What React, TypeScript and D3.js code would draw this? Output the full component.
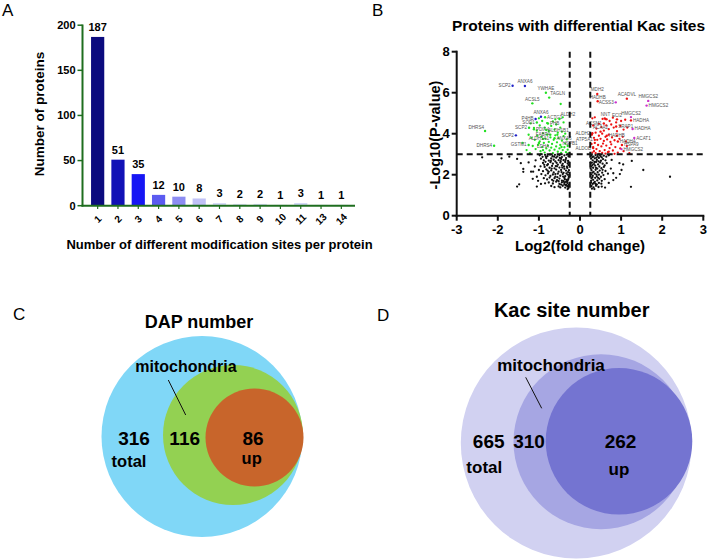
import React from "react";
import * as d3 from "d3";

// ---------- Panel A data ----------
const barCategories = ["1", "2", "3", "4", "5", "6", "7", "8", "9", "10", "11", "13", "14"];
const barValues = [187, 51, 35, 12, 10, 8, 3, 2, 2, 1, 3, 1, 1];
const barColors = ["#0b0b7e", "#1111b6", "#1616f4", "#5b5bf0", "#8d8df2", "#c0c1f6", "#d6daf8", "#dfe2fa", "#d9ddf9", "#e4e6fb", "#d3d8f7", "#e4e6fb", "#e4e6fb"];
const barYTicks = [0, 50, 100, 150, 200];

// ---------- Panel B data ----------
const volcanoXTicks = [-3, -2, -1, 0, 1, 2, 3];
const volcanoYTicks = [0, 2, 4, 6, 8];
const fcCutoffs = [-0.25, 0.25];
const pCutoff = 3;

const blackLeft: [number, number][] = [
  [-0.98, 2.95], [-0.91, 2.87], [-0.85, 2.97], [-0.79, 2.91], [-0.73, 2.98], [-0.67, 2.9], [-0.61, 2.97], [-0.55, 2.89], [-0.5, 2.96], [-0.44, 2.86], [-0.38, 2.94], [-0.32, 2.98], [-0.28, 2.9],
  [-0.95, 2.78], [-0.88, 2.7], [-0.82, 2.81], [-0.76, 2.69], [-0.7, 2.79], [-0.64, 2.73], [-0.58, 2.83], [-0.52, 2.71], [-0.46, 2.77], [-0.4, 2.71], [-0.34, 2.81], [-0.29, 2.67],
  [-0.9, 2.57], [-0.84, 2.63], [-0.78, 2.51], [-0.72, 2.61], [-0.66, 2.54], [-0.6, 2.65], [-0.54, 2.49], [-0.48, 2.59], [-0.42, 2.53], [-0.36, 2.62], [-0.3, 2.55], [-0.27, 2.6],
  [-0.96, 2.41], [-0.86, 2.38], [-0.8, 2.46], [-0.74, 2.34], [-0.68, 2.43], [-0.62, 2.31], [-0.56, 2.41], [-0.5, 2.35], [-0.44, 2.45], [-0.38, 2.29], [-0.32, 2.39], [-0.28, 2.47],
  [-1.0, 2.23], [-0.9, 2.17], [-0.82, 2.26], [-0.76, 2.14], [-0.7, 2.21], [-0.64, 2.11], [-0.58, 2.25], [-0.52, 2.15], [-0.46, 2.23], [-0.4, 2.09], [-0.34, 2.2], [-0.29, 2.13],
  [-0.94, 2.03], [-0.84, 1.97], [-0.78, 2.06], [-0.72, 1.94], [-0.66, 2.01], [-0.6, 1.91], [-0.54, 2.05], [-0.48, 1.95], [-0.42, 2.03], [-0.36, 1.93], [-0.3, 2.0], [-0.27, 1.9],
  [-0.88, 1.83], [-0.8, 1.77], [-0.74, 1.86], [-0.68, 1.75], [-0.62, 1.83], [-0.56, 1.73], [-0.5, 1.81], [-0.44, 1.71], [-0.38, 1.85], [-0.33, 1.75], [-0.28, 1.82],
  [-0.76, 1.62], [-0.66, 1.57], [-0.58, 1.66], [-0.5, 1.55], [-0.44, 1.63], [-0.38, 1.54], [-0.34, 1.65], [-0.3, 1.59], [-0.27, 1.5], [-0.31, 1.68],
  [-0.7, 1.45], [-0.62, 1.39], [-0.52, 1.43], [-0.42, 1.46], [-0.36, 1.37], [-0.31, 1.44], [-0.28, 1.35], [-0.33, 1.52], [-0.4, 1.68], [-0.29, 1.42],
  [-0.63, 2.88], [-0.47, 2.66], [-0.35, 2.72], [-0.31, 2.33], [-0.39, 2.4], [-0.57, 2.58], [-0.69, 2.3], [-0.45, 2.13], [-0.33, 2.06], [-0.55, 1.88],
  [-0.41, 1.91], [-0.29, 1.75], [-0.35, 1.49], [-0.46, 1.52], [-0.3, 1.3], [-0.37, 1.78], [-0.52, 1.68], [-0.65, 1.7], [-0.6, 2.03], [-0.79, 2.2],
  [-0.83, 2.88], [-0.71, 2.67], [-0.49, 2.82], [-0.27, 2.22], [-0.43, 2.35], [-0.59, 2.42], [-0.87, 2.48], [-0.26, 1.98], [-0.38, 1.62], [-0.48, 1.38],
  [-1.91, 2.8], [-1.72, 2.88], [-1.53, 2.77], [-1.44, 2.56], [-1.38, 2.28], [-1.38, 2.14], [-1.19, 2.15], [-1.14, 2.15], [-1.48, 1.53], [-1.53, 1.42],
  [-1.05, 1.9], [-1.05, 1.42], [-0.85, 1.58], [-2.38, 2.85], [-1.25, 2.6], [-1.1, 2.4], [-1.02, 1.7], [-0.95, 1.55], [-1.15, 1.8], [-1.08, 2.7],
];

const blackRight: [number, number][] = [
  [0.28, 2.95], [0.33, 2.88], [0.38, 2.96], [0.43, 2.9], [0.48, 2.97], [0.53, 2.85], [0.58, 2.93], [0.64, 2.88], [0.7, 2.95],
  [0.27, 2.78], [0.31, 2.7], [0.36, 2.8], [0.41, 2.72], [0.46, 2.82], [0.51, 2.68], [0.56, 2.76], [0.62, 2.7],
  [0.29, 2.58], [0.34, 2.52], [0.39, 2.62], [0.44, 2.5], [0.49, 2.6], [0.55, 2.54], [0.6, 2.45],
  [0.27, 2.4], [0.32, 2.34], [0.37, 2.44], [0.42, 2.3], [0.47, 2.4], [0.52, 2.32], [0.58, 2.38],
  [0.28, 2.22], [0.33, 2.14], [0.38, 2.24], [0.43, 2.12], [0.48, 2.2], [0.54, 2.1], [0.62, 2.18],
  [0.27, 2.02], [0.31, 1.95], [0.36, 2.05], [0.41, 1.92], [0.46, 2.0], [0.51, 1.9], [0.57, 1.98],
  [0.28, 1.82], [0.32, 1.75], [0.37, 1.85], [0.42, 1.72], [0.47, 1.8], [0.53, 1.7], [0.6, 1.78],
  [0.27, 1.62], [0.31, 1.55], [0.36, 1.65], [0.41, 1.52], [0.46, 1.6], [0.52, 1.56],
  [0.28, 1.45], [0.33, 1.38], [0.39, 1.46], [0.45, 1.4], [0.29, 1.32], [0.35, 1.3],
  [0.3, 2.86], [0.35, 2.62], [0.4, 2.83], [0.3, 2.47], [0.39, 2.33], [0.3, 2.1], [0.4, 2.0], [0.3, 1.88], [0.34, 1.6], [0.27, 1.7],
  [0.5, 2.9], [0.45, 2.65], [0.55, 2.24], [0.44, 1.85], [0.38, 1.55], [0.26, 2.3], [0.26, 2.6],
  [0.65, 2.56], [0.77, 2.72], [0.96, 2.56], [1.05, 2.5], [1.26, 2.67], [1.54, 2.23], [2.19, 1.9], [0.81, 2.07], [0.97, 2.03],
  [0.81, 1.74], [1.24, 1.41], [1.01, 2.23], [0.61, 1.37], [0.53, 1.42], [0.7, 1.6], [0.75, 2.3], [0.88, 1.85], [0.68, 2.05],
];

const greenPoints: [number, number][] = [
  [-1.2, 4.5], [-1.12, 4.28], [-1.05, 4.15], [-0.98, 4.4], [-0.92, 4.62], [-0.86, 4.3], [-0.8, 4.52], [-0.76, 4.12], [-0.7, 4.38], [-0.66, 4.6], [-0.62, 4.2], [-0.58, 4.45], [-0.54, 4.05], [-0.48, 4.3], [-0.44, 4.1], [-0.4, 4.55], [-0.36, 4.0],
  [-1.25, 3.95], [-1.18, 3.8], [-1.1, 3.7], [-1.04, 3.9], [-0.98, 3.62], [-0.94, 3.85], [-0.88, 3.55], [-0.84, 3.75], [-0.8, 3.95], [-0.76, 3.6], [-0.72, 3.82], [-0.68, 3.5], [-0.64, 3.7], [-0.6, 3.92], [-0.56, 3.58], [-0.52, 3.78], [-0.48, 3.45], [-0.44, 3.66], [-0.4, 3.88], [-0.36, 3.52], [-0.32, 3.72], [-0.3, 3.4],
  [-1.15, 3.4], [-1.08, 3.25], [-1.02, 3.45], [-0.96, 3.15], [-0.92, 3.35], [-0.86, 3.08], [-0.82, 3.28], [-0.78, 3.42], [-0.74, 3.18], [-0.7, 3.32], [-0.66, 3.05], [-0.62, 3.22], [-0.58, 3.38], [-0.54, 3.12], [-0.5, 3.28], [-0.46, 3.06], [-0.42, 3.2], [-0.38, 3.34], [-0.34, 3.1], [-0.3, 3.22], [-0.28, 3.05],
  [-1.4, 3.55], [-1.3, 3.2], [-0.47, 5.45], [-1.0, 4.75], [-0.6, 4.7], [-0.42, 4.8], [-0.72, 3.95], [-0.9, 4.02], [-0.55, 3.95], [-1.22, 3.05], [-0.95, 3.02],
];

const redPoints: [number, number][] = [
  [0.3, 4.75], [0.36, 4.8], [0.55, 4.72], [0.6, 4.75], [0.65, 4.7], [0.72, 4.62], [0.8, 4.78], [0.88, 4.55], [1.0, 4.62], [1.1, 4.68],
  [0.32, 4.4], [0.4, 4.25], [0.46, 4.48], [0.52, 4.32], [0.58, 4.15], [0.64, 4.4], [0.7, 4.22], [0.76, 4.45], [0.82, 4.3], [0.9, 4.12], [0.98, 4.38], [1.06, 4.2], [1.15, 4.3],
  [0.29, 3.95], [0.34, 3.8], [0.38, 4.05], [0.42, 3.7], [0.46, 3.9], [0.5, 3.75], [0.54, 4.0], [0.58, 3.65], [0.62, 3.85], [0.66, 3.72], [0.7, 3.95], [0.74, 3.6], [0.78, 3.82], [0.84, 3.68], [0.9, 3.9], [0.96, 3.75], [1.04, 3.85], [1.12, 3.62],
  [0.28, 3.5], [0.32, 3.35], [0.36, 3.55], [0.4, 3.25], [0.44, 3.45], [0.48, 3.15], [0.52, 3.38], [0.56, 3.52], [0.6, 3.2], [0.64, 3.42], [0.68, 3.1], [0.72, 3.3], [0.76, 3.48], [0.8, 3.18], [0.86, 3.35], [0.92, 3.08], [0.98, 3.28], [1.06, 3.15], [1.14, 3.4], [1.2, 3.05],
  [0.3, 3.08], [0.34, 3.15], [0.38, 3.05], [0.46, 3.02], [0.54, 3.06], [0.62, 3.03], [0.7, 3.12], [0.84, 3.02],
];

// labelled proteins
const labelNames = [
  "SCP2", "ANXA6", "ANXA6", "P4HB", "SCP2",
  "YWHAE", "TAGLN", "ACSL5", "ACTG1", "ALDH2", "SOD1", "PHB", "SCP2", "PDIA4", "DHRS4", "DHRS4", "ALDH1B1", "FABP4", "ANXA6", "GSTM1", "ALDH1A1", "HSPB1", "LDHA",
  "MDH2", "HADHB", "ACSS3", "ACADVL", "HMGCS2", "HMGCS2", "HMGCS2", "NNT", "ECI2", "HADHA", "ACSM1", "SRAP1", "HADHA", "ACAA2", "ALDH2", "HADHB", "ACAT1", "ATP5A1", "HADHA", "HSPA9", "HMGCS2", "ALDOB",
];
const labelX = [
  -1.64, -1.34, -0.95, -1.08, -1.56,
  -0.83, -0.75, -1.16, -0.85, -0.5, -1.05, -0.78, -1.24, -1.12, -2.31, -2.09, -0.82, -0.9, -0.62, -1.25, -1.0, -0.45, -0.9,
  0.42, 0.43, 0.87, 1.14, 1.66, 1.62, 1.24, 0.62, 0.9, 1.24, 0.58, 0.88, 1.28, 0.5, 0.3, 0.65, 1.32, 0.36, 0.92, 1.02, 1.01, 0.32,
];
const labelY = [
  6.34, 6.33, 4.83, 4.72, 3.92,
  6.0, 5.76, 5.48, 4.8, 4.72, 4.55, 4.5, 4.29, 4.22, 4.13, 3.41, 4.18, 3.75, 3.78, 3.45, 3.55, 3.35, 3.2,
  5.94, 5.58, 5.53, 5.71, 5.6, 5.37, 4.81, 4.72, 4.7, 4.65, 4.5, 4.35, 4.23, 4.1, 4.02, 3.9, 3.79, 3.7, 3.62, 3.45, 3.25, 3.3,
];
const labelGroup = [
  "blue", "blue", "blue", "blue", "blue",
  "green", "green", "green", "green", "green", "green", "green", "green", "green", "green", "green", "green", "green", "green", "green", "green", "green", "green",
  "red", "red", "purple", "red", "purple", "purple", "purple", "red", "red", "red", "red", "red", "purple", "red", "red", "red", "purple", "red", "red", "red", "purple", "red",
];
const labelSide = [
  "L", "T", "T", "L", "L",
  "T", "TR", "T", "R", "TR", "L", "R", "L", "R", "TL", "L", "R", "T", "R", "L", "T", "TR", "T",
  "T", "T", "L", "T", "T", "R", "T", "T", "T", "R", "L", "R", "R", "T", "L", "R", "R", "L", "R", "R", "R", "L",
];

// ---------- Panels C & D data ----------
const vennLabels = ["total", "mitochondria", "up"];
const dapCounts = [316, 116, 86];
const kacCounts = [665, 310, 262];

const FONT = "Arial, 'Liberation Sans', Helvetica, sans-serif";
const groupColor: Record<string, string> = { blue: "#2020c8", green: "#22e022", red: "#ee1111", purple: "#cc33cc" };

export default function App() {
  // ----- Panel A scales -----
  const ax = d3.scaleBand<string>().domain(barCategories).range([87.5, 351.5]).paddingInner(0.35).paddingOuter(0.175);
  const ay = d3.scaleLinear().domain([0, 200]).range([205.7, 25.2]);
  const axisGreen = "#1f6e1f";

  // ----- Panel B scales -----
  const vx = d3.scaleLinear().domain([-3, 3]).range([456.7, 703.3]);
  const vy = d3.scaleLinear().domain([0, 8]).range([215.7, 51.7]);

  const labelPos = (side: string, px: number, py: number) => {
    switch (side) {
      case "L": return { x: px - 2, y: py + 1.5, a: "end" };
      case "R": return { x: px + 2, y: py + 1.5, a: "start" };
      case "TL": return { x: px - 1, y: py - 2.5, a: "end" };
      case "TR": return { x: px + 1, y: py - 2.5, a: "start" };
      default: return { x: px, y: py - 2.5, a: "middle" };
    }
  };

  return (
    <div style={{ position: "absolute", left: 0, top: 0 }}>
      <svg width={709} height={560} style={{ display: "block", background: "#fff" }} fontFamily={FONT}>
        {/* ================= Panel A ================= */}
        <text x={2} y={16} fontSize={17}>A</text>
        {barValues.map((v, i) => (
          <rect key={"b" + i} x={ax(barCategories[i])!} y={ay(v)} width={ax.bandwidth()} height={ay(0) - ay(v)} fill={barColors[i]} />
        ))}
        {barValues.map((v, i) => (
          <text key={"bl" + i} x={ax(barCategories[i])! + ax.bandwidth() / 2} y={ay(v) - 6} fontSize={11} fontWeight="bold" textAnchor="middle">{v}</text>
        ))}
        <line x1={82.5} x2={82.5} y1={24.5} y2={206.5} stroke={axisGreen} strokeWidth={2} />
        <line x1={81.5} x2={355} y1={205.7} y2={205.7} stroke={axisGreen} strokeWidth={2} />
        {barYTicks.map((t) => (
          <g key={"ayt" + t}>
            <line x1={77.5} x2={82.5} y1={ay(t)} y2={ay(t)} stroke={axisGreen} strokeWidth={1.5} />
            <text x={75.5} y={ay(t)} dy="0.35em" fontSize={11} fontWeight="bold" textAnchor="end">{t}</text>
          </g>
        ))}
        {barCategories.map((c) => {
          const cx = ax(c)! + ax.bandwidth() / 2;
          return (
            <g key={"axt" + c}>
              <line x1={cx} x2={cx} y1={205.7} y2={209} stroke={axisGreen} strokeWidth={1.2} />
              <text transform={`translate(${cx},${219}) rotate(-45)`} fontSize={10} fontWeight="bold" textAnchor="middle" dy="0.35em">{c}</text>
            </g>
          );
        })}
        <text transform="translate(44,114) rotate(-90)" fontSize={13.5} fontWeight="bold" textAnchor="middle">Number of proteins</text>
        <text x={219.5} y={249} fontSize={13} fontWeight="bold" textAnchor="middle">Number of different modification sites per protein</text>

        {/* ================= Panel B ================= */}
        <text x={372} y={16} fontSize={17}>B</text>
        <text x={578.5} y={31} fontSize={15.5} fontWeight="bold" textAnchor="middle">Proteins with differential Kac sites</text>
        {blackLeft.concat(blackRight).map((p, i) => (
          <circle key={"k" + i} cx={vx(p[0])} cy={vy(p[1])} r={1.15} fill="#111" />
        ))}
        {greenPoints.map((p, i) => (
          <circle key={"g" + i} cx={vx(p[0])} cy={vy(p[1])} r={1.15} fill={groupColor.green} />
        ))}
        {redPoints.map((p, i) => (
          <circle key={"r" + i} cx={vx(p[0])} cy={vy(p[1])} r={1.15} fill={groupColor.red} />
        ))}
        {labelNames.map((n, i) => {
          const px = vx(labelX[i]);
          const py = vy(labelY[i]);
          const lp = labelPos(labelSide[i], px, py);
          return (
            <g key={"lab" + i}>
              <circle cx={px} cy={py} r={1.2} fill={groupColor[labelGroup[i]]} />
              <text x={lp.x} y={lp.y} fontSize={4.6} fill="#555" textAnchor={lp.a as any}>{n}</text>
            </g>
          );
        })}
        {fcCutoffs.map((c) => (
          <line key={"fc" + c} x1={vx(c)} x2={vx(c)} y1={vy(8)} y2={vy(0)} stroke="#111" strokeWidth={2} strokeDasharray="6,4" />
        ))}
        <line x1={vx(-3)} x2={vx(3)} y1={vy(pCutoff)} y2={vy(pCutoff)} stroke="#111" strokeWidth={2} strokeDasharray="6,4" />
        <line x1={vx(-3)} x2={vx(-3)} y1={vy(8) - 1} y2={vy(0) + 1} stroke="#111" strokeWidth={2} />
        <line x1={vx(-3) - 1} x2={vx(3) + 1} y1={vy(0)} y2={vy(0)} stroke="#111" strokeWidth={2} />
        {volcanoYTicks.map((t) => (
          <g key={"vyt" + t}>
            <line x1={vx(-3) - 5} x2={vx(-3)} y1={vy(t)} y2={vy(t)} stroke="#111" strokeWidth={2} />
            <text x={vx(-3) - 7} y={vy(t)} dy="0.36em" fontSize={13} fontWeight="bold" textAnchor="end">{t}</text>
          </g>
        ))}
        {volcanoXTicks.map((t) => (
          <g key={"vxt" + t}>
            <line x1={vx(t)} x2={vx(t)} y1={vy(0)} y2={vy(0) + 5} stroke="#111" strokeWidth={2} />
            <text x={vx(t)} y={234} fontSize={13} fontWeight="bold" textAnchor="middle">{t}</text>
          </g>
        ))}
        <text x={580} y={251} fontSize={15} fontWeight="bold" textAnchor="middle">Log2(fold change)</text>
        <text transform="translate(440,135) rotate(-90)" fontSize={14.5} fontWeight="bold" textAnchor="middle">-Log10(P-value)</text>

        {/* ================= Panel C ================= */}
        <text x={13} y={320} fontSize={17}>C</text>
        <text x={199} y={328} fontSize={18} fontWeight="bold" textAnchor="middle">DAP number</text>
        <circle cx={202} cy={436.5} r={100.5} fill="#80d7f7" />
        <circle cx={233} cy={435} r={70} fill="#93d152" />
        <circle cx={254.5} cy={437.6} r={49} fill="#c8652b" />
        <text x={186} y={372} fontSize={16} fontWeight="bold" textAnchor="middle">{vennLabels[1]}</text>
        <line x1={168.3} y1={380} x2={185.7} y2={415} stroke="#111" strokeWidth={1} />
        <text x={134} y={445} fontSize={19} fontWeight="bold" textAnchor="middle">{dapCounts[0]}</text>
        <text x={129} y={466.5} fontSize={16.5} fontWeight="bold" textAnchor="middle">{vennLabels[0]}</text>
        <text x={184.7} y={445} fontSize={19} fontWeight="bold" textAnchor="middle">{dapCounts[1]}</text>
        <text x={253} y={445} fontSize={19} fontWeight="bold" textAnchor="middle">{dapCounts[2]}</text>
        <text x={251.7} y={463.5} fontSize={16.5} fontWeight="bold" textAnchor="middle">{vennLabels[2]}</text>

        {/* ================= Panel D ================= */}
        <text x={377} y={321} fontSize={17}>D</text>
        <text x={571.7} y={317} fontSize={20} fontWeight="bold" textAnchor="middle">Kac site number</text>
        <circle cx={576.3} cy={443} r={115.5} fill="#d1d1f1" />
        <circle cx={601} cy={441.7} r={87.5} fill="#a6a6e3" />
        <circle cx={619} cy={441.3} r={73.3} fill="#7474d1" />
        <text x={551} y={371} fontSize={17} fontWeight="bold" textAnchor="middle">{vennLabels[1]}</text>
        <line x1={525.7} y1={377.3} x2={541.7} y2={408.3} stroke="#111" strokeWidth={1} />
        <text x={488.7} y={448} fontSize={19} fontWeight="bold" textAnchor="middle">{kacCounts[0]}</text>
        <text x={484.3} y={473} fontSize={17} fontWeight="bold" textAnchor="middle">{vennLabels[0]}</text>
        <text x={529} y={448} fontSize={19} fontWeight="bold" textAnchor="middle">{kacCounts[1]}</text>
        <text x={620.5} y={448} fontSize={19} fontWeight="bold" textAnchor="middle">{kacCounts[2]}</text>
        <text x={619} y={475} fontSize={17} fontWeight="bold" textAnchor="middle">{vennLabels[2]}</text>
      </svg>
    </div>
  );
}
